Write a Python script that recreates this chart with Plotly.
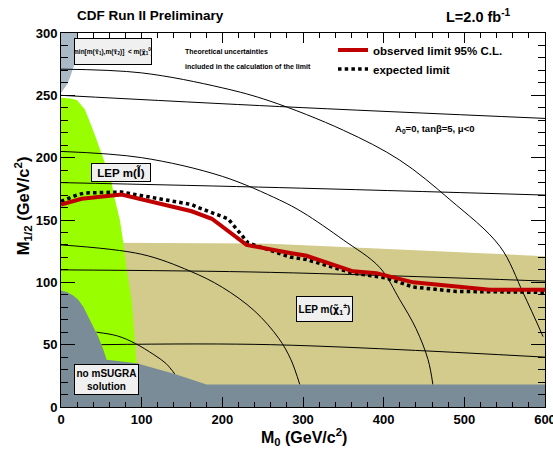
import plotly.graph_objects as go

# ---------------- data ----------------
# observed limit 95% C.L.
obs_m0 = [0, 25.6, 75, 162, 187, 230, 284, 304.5, 362, 391, 436.6, 531.6, 600]
obs_m12 = [162.4, 167, 170.4, 157, 151, 130, 123.5, 121.3, 108.8, 107.4, 100, 94, 94]

# expected limit
exp_m0 = [0, 21, 30, 75, 162, 170, 207, 232, 284, 304.5, 362, 403.6, 436.6, 490, 600]
exp_m12 = [165, 170.4, 171.7, 172.4, 162.4, 160, 151, 131.6, 120.3, 118.2, 107.4, 103.4, 96.2, 92.7, 92]

# LEP chargino excluded region (tan)
lepchi_m0 = [0, 260, 600, 600, 0]
lepchi_m12 = [132, 131, 121, 0, 0]

# LEP slepton excluded region (green)
lepsl_m0 = [0, 12, 20, 29.7, 41, 49.6, 62, 67, 73, 77, 81.4, 87.6, 93.8, 93.8, 0]
lepsl_m12 = [248, 247.5, 246, 238.7, 220, 205, 182, 166, 150, 133, 110, 86, 35, 0, 0]

# stau LSP region (light grey, top left)
stau_m0 = [0, 21, 19, 17, 12, 8, 0]
stau_m12 = [300, 300, 285, 276, 266, 259, 252]

# no mSUGRA solution region (dark grey, bottom)
nosol_m0 = [0, 8, 15, 21.4, 28, 33.8, 40, 46, 52, 56.6, 93.8, 141, 180.5, 600, 600, 0]
nosol_m12 = [93.5, 92, 89.5, 86, 80, 72.6, 65, 56.5, 47, 38, 35, 26.5, 18, 18, 0, 0]

# iso-mass contours, nearly horizontal
g1_m0, g1_m12 = [0, 271, 600], [250, 241, 231.5]
g2_m0, g2_m12 = [0, 270, 600], [180, 176, 170]
g3_m0, g3_m12 = [0, 260, 600], [110, 108, 101]
g4_m0, g4_m12 = [50, 260, 600], [50, 50, 40]

# iso-mass contours, arcs
a1_m0, a1_m12 = [44, 70, 92, 115, 130, 141], [60, 57, 51, 42, 35, 26.5]
a2_m0, a2_m12 = [0, 100, 160, 200, 240, 270, 285, 296], [130, 122.5, 109, 96, 77, 55, 38, 18]
a3_m0, a3_m12 = [0, 100, 200, 271, 300, 350, 395, 420, 440, 455, 461], [205, 200, 185, 166, 156, 134, 112, 86, 63, 38, 18]
a4_m0, a4_m12 = [0, 100, 200, 259, 350, 420, 482, 544, 573, 597.6], [271, 268, 256, 245.4, 222, 198, 166.4, 128.9, 91.4, 56.5]

x_ticks = [0, 100, 200, 300, 400, 500, 600]
y_ticks = [0, 50, 100, 150, 200, 250, 300]

# ---------------- figure ----------------
FONT = "Liberation Sans"
TAN = "#d2cb8b"
GREEN = "#99ff00"
DGREY = "#7a8c97"
LGREY = "#a9b9c6"
RED = "#c00000"

fig = go.Figure()

def region(x, y, color):
    fig.add_trace(go.Scatter(x=x, y=y, fill="toself", fillcolor=color, mode="lines",
                             line=dict(width=0, color=color), showlegend=False, hoverinfo="skip"))

def contour(x, y):
    fig.add_trace(go.Scatter(x=x, y=y, mode="lines", line=dict(color="black", width=1, shape="spline"),
                             showlegend=False, hoverinfo="skip"))

region(lepchi_m0, lepchi_m12, TAN)
region(lepsl_m0, lepsl_m12, GREEN)
region(stau_m0, stau_m12, LGREY)
for cx, cy in [(g1_m0, g1_m12), (g2_m0, g2_m12), (g3_m0, g3_m12), (g4_m0, g4_m12),
               (a1_m0, a1_m12), (a2_m0, a2_m12), (a3_m0, a3_m12), (a4_m0, a4_m12)]:
    contour(cx, cy)
region(nosol_m0, nosol_m12, DGREY)

fig.add_trace(go.Scatter(x=exp_m0, y=exp_m12, mode="lines", name="expected limit",
                         line=dict(color="black", width=3.5, dash="3.5px,3.2px")))
fig.add_trace(go.Scatter(x=obs_m0, y=obs_m12, mode="lines", name="observed limit 95% C.L.",
                         line=dict(color=RED, width=4)))

bold = dict(family=FONT, color="black", weight="bold")

def box(x, y, text, size, w, h):
    fig.add_annotation(x=x, y=y, xref="x", yref="y", text=text, showarrow=False,
                       font=dict(size=size, **bold), bgcolor="#f0f0f0", bordercolor="black",
                       borderwidth=1, width=w, height=h, borderpad=0)

TIL = "<span style='font-family:DejaVu Sans'>%s</span>"
box(64.4, 285.4, "min[m(" + TIL % "τ̃" + "<sub>1</sub>),m(" + TIL % "τ̃" + "<sub>2</sub>)]  < m("
    + TIL % "χ̃" + "<sub>1</sub><sup>0</sup>)", 6.5, 76, 25)
box(74.3, 188, "LEP m(" + TIL % "l̃" + ")", 11.5, 58, 17)
box(326.5, 79, "LEP m(" + TIL % "χ̃" + "<sub>1</sub><sup>±</sup>)", 10, 55, 24)
box(56.4, 22, "no mSUGRA<br>solution", 10, 63, 29)

def txt(x, y, text, size, xanchor="left", xref="x", yref="y", **kw):
    fig.add_annotation(x=x, y=y, xref=xref, yref=yref, text=text, showarrow=False,
                       font=dict(size=size, **bold), xanchor=xanchor, yanchor="middle", **kw)

txt(151, 285.4, "Theoretical uncertainties", 7)
txt(151, 273.3, "included in the calculation of the limit", 7)
txt(411.4, 222.7, "A<sub>0</sub>=0, tanβ=5, μ<0", 9.5)

txt(0.184, 1.0455, "CDF Run II Preliminary", 13.5, xanchor="center", xref="paper", yref="paper")
txt(0.8636, 1.045, "L=2.0 fb<sup>-1</sup>", 14.5, xanchor="center", xref="paper", yref="paper")
txt(0.502, -0.080, "M<sub>0</sub> (GeV/c<sup>2</sup>)", 16, xanchor="center", xref="paper", yref="paper")
txt(-0.0785, 0.537, "M<sub>1/2</sub> (GeV/c<sup>2</sup>)", 16.5, xanchor="center", xref="paper", yref="paper",
    textangle=-90)

axis_common = dict(showgrid=False, zeroline=False, showline=True, linecolor="black", linewidth=1,
                   mirror="ticks", ticks="inside", tickcolor="black", tickwidth=1,
                   ticklabeloverflow="allow",
                   tickfont=dict(family=FONT, size=13, color="black", weight="bold"))

fig.update_xaxes(range=[0, 600], tickvals=x_ticks, ticklen=10,
                 minor=dict(dtick=20, ticklen=5, ticks="inside", tickcolor="black", showgrid=False),
                 **axis_common)
fig.update_yaxes(range=[0, 300], tickvals=y_ticks, ticklen=14,
                 minor=dict(dtick=10, ticklen=7, ticks="inside", tickcolor="black", showgrid=False),
                 **axis_common)

fig.update_layout(
    width=553, height=451,
    margin=dict(l=61, r=8, t=33, b=44, pad=0, autoexpand=False),
    paper_bgcolor="white", plot_bgcolor="white",
    legend=dict(x=0.562, y=0.993, xanchor="left", yanchor="top", bgcolor="rgba(0,0,0,0)",
                font=dict(family=FONT, size=11.5, color="black", weight="bold"),
                traceorder="reversed", tracegroupgap=0, itemwidth=30),
    showlegend=True,
)

fig.write_html("out.html", config={"displayModeBar": False},
               post_script="document.body.style.margin='0px';document.body.style.overflow='hidden';")
